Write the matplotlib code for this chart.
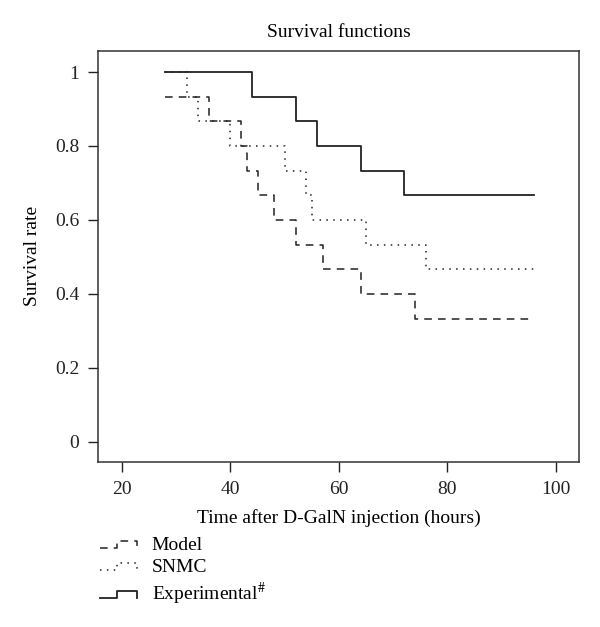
import matplotlib

matplotlib.use("Agg")
import matplotlib.pyplot as plt
from matplotlib.legend_handler import HandlerBase
from matplotlib.lines import Line2D

plt.rcParams["font.family"] = ["Liberation Serif", "DejaVu Serif"]
plt.rcParams["mathtext.fontset"] = "stix"

# Kaplan-Meier steps (time in hours, survival after the step)
model_t = [28, 36, 42, 43, 45, 48, 52, 57, 64, 74, 96]
model_s = [0.933, 0.867, 0.8, 0.733, 0.667, 0.6, 0.533, 0.467, 0.4, 0.333, 0.333]

snmc_t = [28, 32, 34, 40, 50, 54, 55, 65, 76, 96]
snmc_s = [1.0, 0.933, 0.867, 0.8, 0.733, 0.667, 0.6, 0.533, 0.467, 0.467]

exp_t = [28, 44, 52, 56, 64, 72, 96]
exp_s = [1.0, 0.933, 0.867, 0.8, 0.733, 0.667, 0.667]

labels = ["Model", "SNMC", "Experimental$^{\\#}$"]
xticks = [20, 40, 60, 80, 100]
yticks = [0, 0.2, 0.4, 0.6, 0.8, 1]

DARK = "#222222"


class StepHandler(HandlerBase):
    # draws the little step-shaped legend icon
    def create_artists(self, legend, orig_handle, xdescent, ydescent,
                       width, height, fontsize, trans):
        lo = height * 0.15
        hi = height * 0.65
        xs = [0, width * 0.45, width * 0.45, width, width]
        ys = [lo, lo, hi, hi, lo]
        line = Line2D(xs, ys)
        line.update_from(orig_handle)
        line.set_clip_on(False)
        line.set_clip_box(None)
        line.set_transform(trans)
        return [line]


fig = plt.figure(figsize=(6.0, 6.27), dpi=100)
ax = fig.add_axes([0.1625, 0.2636, 0.8030, 0.6551])

l1, = ax.step(model_t, model_s, where="post", color=DARK, lw=1.1,
              linestyle=(0, (5, 4)))
l2, = ax.step(snmc_t, snmc_s, where="post", color=DARK, lw=1.1,
              linestyle=(0, (1, 3.5)))
l3, = ax.step(exp_t, exp_s, where="post", color=DARK, lw=1.3,
              linestyle="-")

ax.set_xlim(15.5, 104.3)
ax.set_ylim(-0.054, 1.057)
ax.set_xticks(xticks)
ax.set_xticklabels([str(v) for v in xticks])
ax.set_yticks(yticks)
ax.set_yticklabels(["0", "0.2", "0.4", "0.6", "0.8", "1"])
ax.tick_params(direction="out", length=7, width=1, colors=DARK,
               labelsize=14, pad=7)
ax.tick_params(axis="y", pad=6)
for sp in ax.spines.values():
    sp.set_color("#333333")
    sp.set_linewidth(1.1)

ax.set_title("Survival functions", fontsize=14, pad=10)
ax.set_xlabel("Time after D-GalN injection (hours)", fontsize=14, labelpad=8)
ax.set_ylabel("Survival rate", fontsize=14, labelpad=10)

fig.legend([l1, l2, l3], labels, loc="upper left",
           bbox_to_anchor=(0.167, 0.145), frameon=False, fontsize=14,
           handlelength=1.9, handletextpad=0.75, labelspacing=0.25,
           borderaxespad=0, borderpad=0,
           handler_map={Line2D: StepHandler()})

fig.savefig("out.png", dpi=100)
